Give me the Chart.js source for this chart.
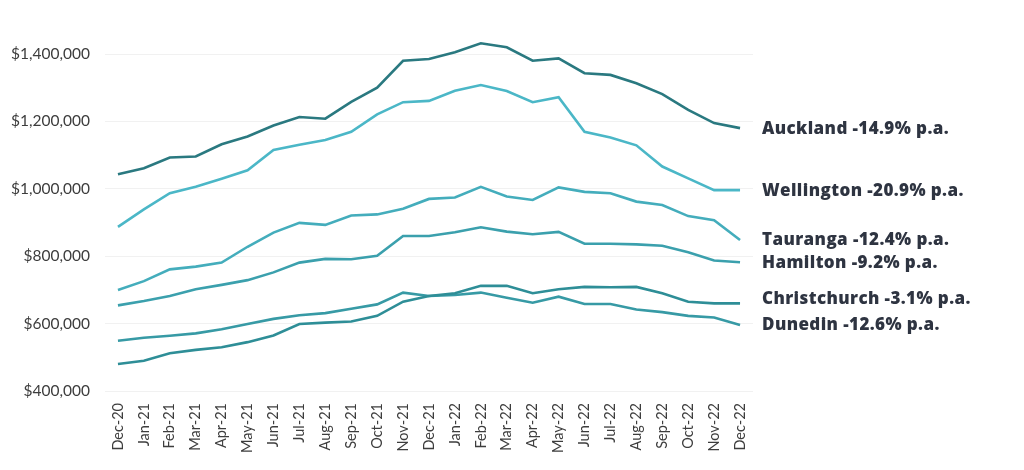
<!DOCTYPE html>
<html>
<head>
<meta charset="UTF-8">
<title>NZ house prices</title>
<script src="https://cdn.jsdelivr.net/npm/chart.js@4"></script>
<style>
  html, body { margin: 0; padding: 0; background: #fff; }
  #wrap { width: 1024px; height: 470px; position: relative; }
</style>
</head>
<body>
<div id="wrap"><canvas id="c"></canvas></div>
<script>
// months Dec-20 .. Dec-22
const months = ['Dec-20','Jan-21','Feb-21','Mar-21','Apr-21','May-21','Jun-21','Jul-21','Aug-21','Sep-21','Oct-21','Nov-21',
  'Dec-21','Jan-22','Feb-22','Mar-22','Apr-22','May-22','Jun-22','Jul-22','Aug-22','Sep-22','Oct-22','Nov-22','Dec-22'];

const auckland     = [1043000,1061000,1093000,1096000,1132000,1155000,1188000,1213000,1208000,1258000,1300000,1380000,
                      1385000,1405000,1432000,1420000,1380000,1387000,1343000,1338000,1313000,1281000,1234000,1195000,1180000];
const wellington   = [887000,939000,987000,1006000,1030000,1055000,1115000,1131000,1145000,1169000,1221000,1257000,
                      1261000,1291000,1308000,1290000,1257000,1272000,1169000,1152000,1129000,1066000,1031000,996000,996000];
const tauranga     = [700000,726000,761000,769000,781000,828000,870000,899000,893000,921000,924000,941000,
                      970000,974000,1006000,977000,967000,1004000,991000,987000,962000,952000,919000,907000,848000];
const hamilton     = [654000,667000,682000,702000,715000,729000,752000,781000,792000,791000,801000,860000,
                      860000,871000,886000,873000,865000,872000,837000,837000,835000,831000,812000,787000,782000];
const christchurch = [480000,490000,512000,522000,530000,545000,565000,599000,603000,606000,623000,665000,
                      682000,690000,712000,712000,690000,702000,709000,708000,709000,690000,665000,660000,660000];
const dunedin      = [549000,558000,564000,571000,583000,599000,614000,625000,631000,644000,657000,692000,
                      682000,685000,692000,677000,662000,680000,658000,658000,642000,634000,623000,618000,596000];

const seriesNames  = ['Auckland','Wellington','Tauranga','Hamilton','Christchurch','Dunedin'];
const seriesLabels = ['Auckland -14.9% p.a.','Wellington -20.9% p.a.','Tauranga -12.4% p.a.',
                      'Hamilton -9.2% p.a.','Christchurch -3.1% p.a.','Dunedin -12.6% p.a.'];
const yTicks = [400000, 600000, 800000, 1000000, 1200000, 1400000];

const colors  = ['#2a7980','#4bb7c7','#44adbc','#3ba0ad','#2e8e97','#379aa5'];
const nudges  = [1, 1, 0, 1, -4, 0];   // small vertical shifts of end labels

const endLabels = {
  id: 'endLabels',
  afterDatasetsDraw(chart) {
    const ctx = chart.ctx;
    ctx.save();
    ctx.font = '800 17px "Open Sans"';
    ctx.letterSpacing = '0.4px';
    ctx.fillStyle = '#2e3441';
    ctx.textBaseline = 'middle';
    ctx.textAlign = 'left';
    chart.data.datasets.forEach((ds, i) => {
      const y = chart.scales.y.getPixelForValue(ds.data[ds.data.length - 1]);
      ctx.fillText(seriesLabels[i], chart.chartArea.right + 9, y + nudges[i]);
    });
    ctx.restore();
  }
};

const allData = [auckland, wellington, tauranga, hamilton, christchurch, dunedin];

new Chart(document.getElementById('c'), {
  type: 'line',
  data: {
    labels: months,
    datasets: allData.map((d, i) => ({
      label: seriesNames[i],
      data: d,
      borderColor: colors[i],
      borderWidth: 2.6,
      pointRadius: 0,
      tension: 0,
      fill: false,
      clip: false
    }))
  },
  options: {
    responsive: true,
    maintainAspectRatio: false,
    animation: false,
    layout: { padding: { left: 0, right: 271, top: 54, bottom: 0 } },
    plugins: { legend: { display: false }, tooltip: { enabled: false } },
    scales: {
      x: {
        offset: true,
        grid: { display: false },
        border: { display: false },
        ticks: { color: '#3d3d3d', font: { family: 'Lato', size: 14.5 }, maxRotation: 90, minRotation: 90, padding: 4, autoSkip: false },
        afterFit(s) { s.height = 79; }
      },
      y: {
        min: 400000,
        max: 1400000,
        afterBuildTicks(s) { s.ticks = yTicks.map(v => ({ value: v })); },
        grid: { color: '#f1f1f1', lineWidth: 1, drawTicks: false },
        border: { display: false },
        ticks: {
          color: '#3d3d3d', font: { family: 'Lato', size: 15.5 }, padding: 15,
          callback: v => '$' + v.toLocaleString('en-US')
        },
        afterFit(s) { s.width = 105; }
      }
    }
  },
  plugins: [endLabels]
});
</script>
</body>
</html>
